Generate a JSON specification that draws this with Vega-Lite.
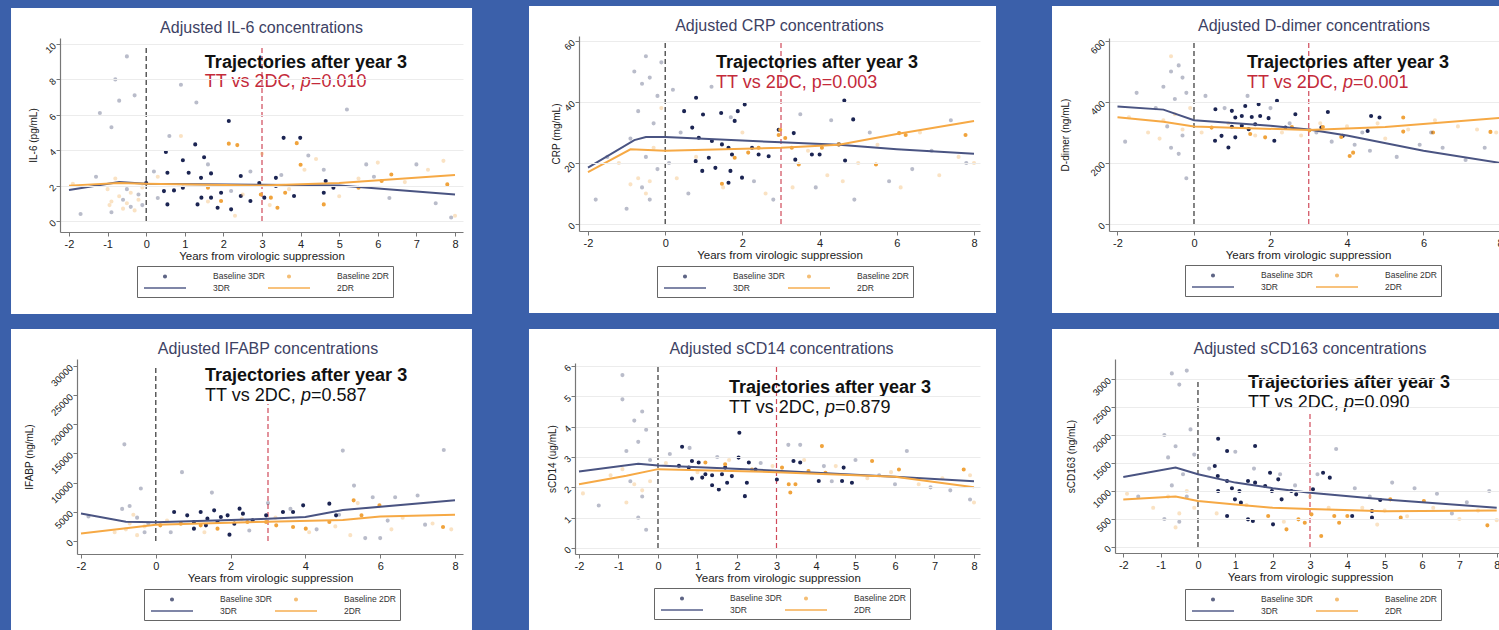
{
"$schema": "https://vega.github.io/schema/vega-lite/v6.json",
"background": "#3b60aa",
"padding": {"left": 10, "top": 5, "right": 0, "bottom": 0},
"columns": 3,
"spacing": {"row": 13, "column": 55},
"align": "each",
"resolve": {"legend": {"color": "independent", "shape": "independent"}},
"config": {
  "view": {"stroke": null},
  "font": "Liberation Sans",
  "axis": {"domainColor": "#777777", "domainWidth": 1.2, "tickColor": "#777777", "tickSize": 4, "labelFontSize": 11, "labelColor": "#222222", "titleFontSize": 11.5, "titleFontWeight": "normal", "titleColor": "#222222", "grid": false, "labelPadding": 2, "titlePadding": 1},
  "axisX": {"labelFlush": false},
  "axisY": {"labelAngle": -45, "labelFontSize": 9.5, "titleFontSize": 10, "grid": true, "gridColor": "#ececec"},
  "legend": {"columns": 2, "symbolSize": 100, "symbolOffset": 18, "labelOffset": 42, "columnPadding": -18, "rowPadding": 0, "padding": 4, "strokeColor": "#666666", "labelFontSize": 8.5, "labelColor": "#333333", "symbolStrokeWidth": 2, "orient": "none"},
  "title": {"fontSize": 16, "fontWeight": "normal", "color": "#3d4264", "frame": "group", "anchor": "middle", "baseline": "alphabetic"}
},
"datasets": {
"pts": [
{"p":"A","g":"B3","f":1,"x":0.51,"y":3.9},{"p":"A","g":"B3","f":1,"x":1.27,"y":4.33},{"p":"A","g":"B3","f":1,"x":1.5,"y":3.6},{"p":"A","g":"B3","f":1,"x":2.14,"y":5.65},{"p":"A","g":"B3","f":1,"x":3.56,"y":4.7},{"p":"A","g":"B3","f":1,"x":3.99,"y":4.7},{"p":"A","g":"B3","f":1,"x":0.55,"y":2.73},{"p":"A","g":"B3","f":1,"x":0.95,"y":3.43},{"p":"A","g":"B3","f":1,"x":1.1,"y":2.73},{"p":"A","g":"B3","f":1,"x":1.42,"y":2.44},{"p":"A","g":"B3","f":1,"x":1.68,"y":2.69},{"p":"A","g":"B3","f":1,"x":2.45,"y":2.54},{"p":"A","g":"B3","f":1,"x":0.72,"y":1.73},{"p":"A","g":"B3","f":1,"x":0.46,"y":1.69},{"p":"A","g":"B3","f":1,"x":0.55,"y":0.94},{"p":"A","g":"B3","f":1,"x":0.95,"y":1.88},{"p":"A","g":"B3","f":1,"x":1.33,"y":0.94},{"p":"A","g":"B3","f":1,"x":1.68,"y":1.32},{"p":"A","g":"B3","f":1,"x":1.94,"y":1.6},{"p":"A","g":"B3","f":1,"x":2.2,"y":0.66},{"p":"A","g":"B3","f":1,"x":2.45,"y":1.41},{"p":"A","g":"B3","f":1,"x":2.7,"y":1.13},{"p":"A","g":"B3","f":1,"x":3.06,"y":1.32},{"p":"A","g":"B3","f":1,"x":3.36,"y":2.44},{"p":"A","g":"B3","f":1,"x":3.36,"y":1.98},{"p":"A","g":"B3","f":1,"x":3.83,"y":1.41},{"p":"A","g":"B3","f":1,"x":4.6,"y":1.6},{"p":"A","g":"B3","f":1,"x":4.65,"y":2.26},{"p":"A","g":"B3","f":1,"x":4.85,"y":1.88},{"p":"A","g":"B3","f":1,"x":0.0,"y":2.15},{"p":"A","g":"B3","f":1,"x":2.93,"y":2.15},{"p":"A","g":"B3","f":1,"x":1.85,"y":0.75},{"p":"A","g":"B3","f":1,"x":1.43,"y":1.32},
{"p":"A","g":"B2","f":1,"x":2.14,"y":4.37},{"p":"A","g":"B2","f":1,"x":2.36,"y":4.29},{"p":"A","g":"B2","f":1,"x":3.9,"y":4.4},{"p":"A","g":"B2","f":1,"x":4.0,"y":3.18},{"p":"A","g":"B2","f":1,"x":1.6,"y":1.88},{"p":"A","g":"B2","f":1,"x":1.94,"y":1.13},{"p":"A","g":"B2","f":1,"x":2.97,"y":1.5},{"p":"A","g":"B2","f":1,"x":3.23,"y":1.32},{"p":"A","g":"B2","f":1,"x":3.4,"y":0.75},{"p":"A","g":"B2","f":1,"x":5.5,"y":1.88},{"p":"A","g":"B2","f":1,"x":6.1,"y":2.26},{"p":"A","g":"B2","f":1,"x":6.35,"y":2.63},{"p":"A","g":"B2","f":1,"x":7.8,"y":2.07},{"p":"A","g":"B2","f":1,"x":4.6,"y":0.94},{"p":"A","g":"B2","f":1,"x":3.6,"y":1.6},
{"p":"A","g":"B3","f":0,"x":-0.8,"y":8},{"p":"A","g":"B3","f":0,"x":-0.5,"y":9.3},{"p":"A","g":"B3","f":0,"x":-0.7,"y":6.8},{"p":"A","g":"B3","f":0,"x":-0.9,"y":5.3},{"p":"A","g":"B3","f":0,"x":-0.3,"y":7.1},{"p":"A","g":"B3","f":0,"x":-1.2,"y":6.1},{"p":"A","g":"B3","f":0,"x":-0.6,"y":1.2},{"p":"A","g":"B3","f":0,"x":-0.4,"y":0.8},{"p":"A","g":"B3","f":0,"x":-0.2,"y":1.5},{"p":"A","g":"B3","f":0,"x":-0.9,"y":0.5},{"p":"A","g":"B3","f":0,"x":0.3,"y":1.3},{"p":"A","g":"B3","f":0,"x":0.6,"y":4.8},{"p":"A","g":"B3","f":0,"x":0.9,"y":7.7},{"p":"A","g":"B3","f":0,"x":1.3,"y":6.7},{"p":"A","g":"B3","f":0,"x":0.2,"y":2.8},{"p":"A","g":"B3","f":0,"x":1.6,"y":3.2},{"p":"A","g":"B3","f":0,"x":2.2,"y":1.7},{"p":"A","g":"B3","f":0,"x":2.7,"y":2.8},{"p":"A","g":"B3","f":0,"x":3.5,"y":2.6},{"p":"A","g":"B3","f":0,"x":4.2,"y":3.7},{"p":"A","g":"B3","f":0,"x":5.2,"y":6.3},{"p":"A","g":"B3","f":0,"x":5.7,"y":3.2},{"p":"A","g":"B3","f":0,"x":6.3,"y":1.3},{"p":"A","g":"B3","f":0,"x":7.0,"y":3.2},{"p":"A","g":"B3","f":0,"x":7.5,"y":1.0},{"p":"A","g":"B3","f":0,"x":7.9,"y":0.2},{"p":"A","g":"B3","f":0,"x":-1.7,"y":0.4},{"p":"A","g":"B3","f":0,"x":-1.3,"y":2.5},{"p":"A","g":"B3","f":0,"x":4.6,"y":2.9},{"p":"A","g":"B3","f":0,"x":5.9,"y":2.5},{"p":"A","g":"B3","f":0,"x":-0.5,"y":1.8},{"p":"A","g":"B3","f":0,"x":-0.1,"y":0.9},
{"p":"A","g":"B2","f":0,"x":-0.5,"y":1.0},{"p":"A","g":"B2","f":0,"x":-0.7,"y":1.4},{"p":"A","g":"B2","f":0,"x":-0.3,"y":0.6},{"p":"A","g":"B2","f":0,"x":-0.1,"y":1.9},{"p":"A","g":"B2","f":0,"x":-0.8,"y":2.4},{"p":"A","g":"B2","f":0,"x":0.3,"y":2.5},{"p":"A","g":"B2","f":0,"x":0.9,"y":4.8},{"p":"A","g":"B2","f":0,"x":1.6,"y":1.1},{"p":"A","g":"B2","f":0,"x":2.3,"y":0.3},{"p":"A","g":"B2","f":0,"x":3.0,"y":3.8},{"p":"A","g":"B2","f":0,"x":3.2,"y":0.9},{"p":"A","g":"B2","f":0,"x":4.1,"y":2.9},{"p":"A","g":"B2","f":0,"x":4.4,"y":3.5},{"p":"A","g":"B2","f":0,"x":5.0,"y":1.4},{"p":"A","g":"B2","f":0,"x":5.5,"y":2.4},{"p":"A","g":"B2","f":0,"x":6.0,"y":3.3},{"p":"A","g":"B2","f":0,"x":6.7,"y":2.2},{"p":"A","g":"B2","f":0,"x":7.3,"y":2.9},{"p":"A","g":"B2","f":0,"x":7.7,"y":3.4},{"p":"A","g":"B2","f":0,"x":8.0,"y":0.3},{"p":"A","g":"B2","f":0,"x":-1.9,"y":2.1},{"p":"A","g":"B2","f":0,"x":-1.0,"y":1.8},{"p":"A","g":"B2","f":0,"x":2.5,"y":1.5},{"p":"A","g":"B2","f":0,"x":3.7,"y":1.8},{"p":"A","g":"B2","f":0,"x":-0.9,"y":1.1},{"p":"A","g":"B2","f":0,"x":-0.6,"y":0.7},{"p":"A","g":"B2","f":0,"x":-0.4,"y":1.6},{"p":"A","g":"B2","f":0,"x":-0.2,"y":1.2},{"p":"A","g":"B2","f":0,"x":-0.95,"y":0.9},
{"p":"B","g":"B3","f":1,"x":0.8,"y":41.4},{"p":"B","g":"B3","f":1,"x":0.49,"y":37.0},{"p":"B","g":"B3","f":1,"x":0.98,"y":35.9},{"p":"B","g":"B3","f":1,"x":1.45,"y":36.4},{"p":"B","g":"B3","f":1,"x":1.88,"y":37.0},{"p":"B","g":"B3","f":1,"x":2.06,"y":39.2},{"p":"B","g":"B3","f":1,"x":1.8,"y":33.8},{"p":"B","g":"B3","f":1,"x":0.7,"y":31.6},{"p":"B","g":"B3","f":1,"x":0.87,"y":28.3},{"p":"B","g":"B3","f":1,"x":1.21,"y":27.2},{"p":"B","g":"B3","f":1,"x":1.47,"y":26.1},{"p":"B","g":"B3","f":1,"x":1.64,"y":25.0},{"p":"B","g":"B3","f":1,"x":1.73,"y":22.8},{"p":"B","g":"B3","f":1,"x":1.13,"y":21.7},{"p":"B","g":"B3","f":1,"x":0.79,"y":20.6},{"p":"B","g":"B3","f":1,"x":0.96,"y":17.4},{"p":"B","g":"B3","f":1,"x":1.3,"y":18.4},{"p":"B","g":"B3","f":1,"x":1.69,"y":17.4},{"p":"B","g":"B3","f":1,"x":1.99,"y":15.2},{"p":"B","g":"B3","f":1,"x":2.25,"y":25.0},{"p":"B","g":"B3","f":1,"x":2.42,"y":22.8},{"p":"B","g":"B3","f":1,"x":2.68,"y":22.2},{"p":"B","g":"B3","f":1,"x":2.94,"y":30.9},{"p":"B","g":"B3","f":1,"x":3.33,"y":29.8},{"p":"B","g":"B3","f":1,"x":3.37,"y":21.1},{"p":"B","g":"B3","f":1,"x":3.8,"y":22.8},{"p":"B","g":"B3","f":1,"x":4.0,"y":22.8},{"p":"B","g":"B3","f":1,"x":4.64,"y":40.5},{"p":"B","g":"B3","f":1,"x":4.87,"y":34.3},{"p":"B","g":"B3","f":1,"x":4.66,"y":20.8},{"p":"B","g":"B3","f":1,"x":1.64,"y":13.5},{"p":"B","g":"B3","f":1,"x":4.5,"y":26.1},
{"p":"B","g":"B2","f":1,"x":2.94,"y":29.2},{"p":"B","g":"B2","f":1,"x":2.98,"y":30.9},{"p":"B","g":"B2","f":1,"x":3.11,"y":28.2},{"p":"B","g":"B2","f":1,"x":3.28,"y":25},{"p":"B","g":"B2","f":1,"x":4.06,"y":25},{"p":"B","g":"B2","f":1,"x":4.49,"y":26.1},{"p":"B","g":"B2","f":1,"x":6.06,"y":29.8},{"p":"B","g":"B2","f":1,"x":6.23,"y":29.2},{"p":"B","g":"B2","f":1,"x":7.78,"y":29.2},{"p":"B","g":"B2","f":1,"x":1.8,"y":21.7},{"p":"B","g":"B2","f":1,"x":2.15,"y":23.4},{"p":"B","g":"B2","f":1,"x":1.47,"y":13.2},{"p":"B","g":"B2","f":1,"x":5.46,"y":19.5},{"p":"B","g":"B2","f":1,"x":3.46,"y":19.5},{"p":"B","g":"B2","f":1,"x":2.42,"y":25},
{"p":"B","g":"B3","f":0,"x":-0.8,"y":50},{"p":"B","g":"B3","f":0,"x":-0.6,"y":46},{"p":"B","g":"B3","f":0,"x":-0.4,"y":48},{"p":"B","g":"B3","f":0,"x":-0.2,"y":42},{"p":"B","g":"B3","f":0,"x":-0.7,"y":37},{"p":"B","g":"B3","f":0,"x":-0.3,"y":33},{"p":"B","g":"B3","f":0,"x":-0.9,"y":28},{"p":"B","g":"B3","f":0,"x":-0.5,"y":22},{"p":"B","g":"B3","f":0,"x":-0.2,"y":18},{"p":"B","g":"B3","f":0,"x":-0.6,"y":12},{"p":"B","g":"B3","f":0,"x":-0.4,"y":8},{"p":"B","g":"B3","f":0,"x":-1.0,"y":5},{"p":"B","g":"B3","f":0,"x":0.2,"y":44},{"p":"B","g":"B3","f":0,"x":0.4,"y":30},{"p":"B","g":"B3","f":0,"x":0.1,"y":20},{"p":"B","g":"B3","f":0,"x":0.6,"y":10},{"p":"B","g":"B3","f":0,"x":1.2,"y":45},{"p":"B","g":"B3","f":0,"x":1.7,"y":35},{"p":"B","g":"B3","f":0,"x":2.3,"y":14},{"p":"B","g":"B3","f":0,"x":2.8,"y":8},{"p":"B","g":"B3","f":0,"x":3.5,"y":36},{"p":"B","g":"B3","f":0,"x":3.9,"y":12},{"p":"B","g":"B3","f":0,"x":4.3,"y":34},{"p":"B","g":"B3","f":0,"x":4.9,"y":8},{"p":"B","g":"B3","f":0,"x":5.3,"y":30},{"p":"B","g":"B3","f":0,"x":5.8,"y":14},{"p":"B","g":"B3","f":0,"x":6.4,"y":18},{"p":"B","g":"B3","f":0,"x":6.9,"y":24},{"p":"B","g":"B3","f":0,"x":7.4,"y":34},{"p":"B","g":"B3","f":0,"x":7.8,"y":20},{"p":"B","g":"B3","f":0,"x":-1.8,"y":8},{"p":"B","g":"B3","f":0,"x":-1.5,"y":22},{"p":"B","g":"B3","f":0,"x":-0.1,"y":53},{"p":"B","g":"B3","f":0,"x":-0.5,"y":55},
{"p":"B","g":"B2","f":0,"x":-0.7,"y":15},{"p":"B","g":"B2","f":0,"x":-0.5,"y":10},{"p":"B","g":"B2","f":0,"x":-0.9,"y":13},{"p":"B","g":"B2","f":0,"x":-0.3,"y":25},{"p":"B","g":"B2","f":0,"x":-0.1,"y":38},{"p":"B","g":"B2","f":0,"x":0.3,"y":15},{"p":"B","g":"B2","f":0,"x":0.8,"y":22},{"p":"B","g":"B2","f":0,"x":1.5,"y":12},{"p":"B","g":"B2","f":0,"x":2.0,"y":30},{"p":"B","g":"B2","f":0,"x":2.6,"y":10},{"p":"B","g":"B2","f":0,"x":3.3,"y":12},{"p":"B","g":"B2","f":0,"x":3.7,"y":24},{"p":"B","g":"B2","f":0,"x":4.2,"y":16},{"p":"B","g":"B2","f":0,"x":4.6,"y":14},{"p":"B","g":"B2","f":0,"x":5.0,"y":20},{"p":"B","g":"B2","f":0,"x":5.5,"y":26},{"p":"B","g":"B2","f":0,"x":6.1,"y":12},{"p":"B","g":"B2","f":0,"x":6.6,"y":30},{"p":"B","g":"B2","f":0,"x":7.1,"y":16},{"p":"B","g":"B2","f":0,"x":7.6,"y":22},{"p":"B","g":"B2","f":0,"x":8.0,"y":20},{"p":"B","g":"B2","f":0,"x":-1.2,"y":20},{"p":"B","g":"B2","f":0,"x":-0.4,"y":14},
{"p":"C","g":"B3","f":1,"x":0.56,"y":376},{"p":"C","g":"B3","f":1,"x":0.99,"y":371},{"p":"C","g":"B3","f":1,"x":1.34,"y":387},{"p":"C","g":"B3","f":1,"x":1.69,"y":393},{"p":"C","g":"B3","f":1,"x":2.17,"y":404},{"p":"C","g":"B3","f":1,"x":1.08,"y":349},{"p":"C","g":"B3","f":1,"x":1.25,"y":354},{"p":"C","g":"B3","f":1,"x":1.51,"y":351},{"p":"C","g":"B3","f":1,"x":1.73,"y":354},{"p":"C","g":"B3","f":1,"x":1.95,"y":347},{"p":"C","g":"B3","f":1,"x":2.65,"y":360},{"p":"C","g":"B3","f":1,"x":1.6,"y":327},{"p":"C","g":"B3","f":1,"x":1.25,"y":322},{"p":"C","g":"B3","f":1,"x":0.99,"y":319},{"p":"C","g":"B3","f":1,"x":0.55,"y":273},{"p":"C","g":"B3","f":1,"x":0.72,"y":289},{"p":"C","g":"B3","f":1,"x":0.9,"y":251},{"p":"C","g":"B3","f":1,"x":1.08,"y":284},{"p":"C","g":"B3","f":1,"x":2.1,"y":273},{"p":"C","g":"B3","f":1,"x":3.5,"y":367},{"p":"C","g":"B3","f":1,"x":4.63,"y":354},{"p":"C","g":"B3","f":1,"x":4.85,"y":349},{"p":"C","g":"B3","f":1,"x":4.54,"y":305},{"p":"C","g":"B3","f":1,"x":3.33,"y":316},{"p":"C","g":"B3","f":1,"x":3.89,"y":289},{"p":"C","g":"B3","f":1,"x":1.43,"y":311},{"p":"C","g":"B3","f":1,"x":2.39,"y":316},
{"p":"C","g":"B2","f":1,"x":3.02,"y":307},{"p":"C","g":"B2","f":1,"x":3.37,"y":318},{"p":"C","g":"B2","f":1,"x":3.85,"y":285},{"p":"C","g":"B2","f":1,"x":4.07,"y":223},{"p":"C","g":"B2","f":1,"x":4.16,"y":234},{"p":"C","g":"B2","f":1,"x":5.47,"y":349},{"p":"C","g":"B2","f":1,"x":5.47,"y":303},{"p":"C","g":"B2","f":1,"x":6.25,"y":300},{"p":"C","g":"B2","f":1,"x":7.75,"y":302},{"p":"C","g":"B2","f":1,"x":1.86,"y":284},{"p":"C","g":"B2","f":1,"x":2.56,"y":318},{"p":"C","g":"B2","f":1,"x":0.46,"y":316},{"p":"C","g":"B2","f":1,"x":1.47,"y":295},
{"p":"C","g":"B3","f":0,"x":-0.6,"y":500},{"p":"C","g":"B3","f":0,"x":-0.4,"y":520},{"p":"C","g":"B3","f":0,"x":-0.3,"y":480},{"p":"C","g":"B3","f":0,"x":-0.8,"y":450},{"p":"C","g":"B3","f":0,"x":-0.2,"y":430},{"p":"C","g":"B3","f":0,"x":-0.5,"y":410},{"p":"C","g":"B3","f":0,"x":-1.0,"y":380},{"p":"C","g":"B3","f":0,"x":-0.7,"y":320},{"p":"C","g":"B3","f":0,"x":-0.3,"y":290},{"p":"C","g":"B3","f":0,"x":-0.6,"y":250},{"p":"C","g":"B3","f":0,"x":-0.4,"y":230},{"p":"C","g":"B3","f":0,"x":-0.2,"y":150},{"p":"C","g":"B3","f":0,"x":-1.8,"y":270},{"p":"C","g":"B3","f":0,"x":-1.5,"y":430},{"p":"C","g":"B3","f":0,"x":0.3,"y":420},{"p":"C","g":"B3","f":0,"x":0.8,"y":380},{"p":"C","g":"B3","f":0,"x":1.4,"y":420},{"p":"C","g":"B3","f":0,"x":2.0,"y":380},{"p":"C","g":"B3","f":0,"x":2.5,"y":330},{"p":"C","g":"B3","f":0,"x":3.2,"y":300},{"p":"C","g":"B3","f":0,"x":3.6,"y":270},{"p":"C","g":"B3","f":0,"x":4.2,"y":260},{"p":"C","g":"B3","f":0,"x":4.6,"y":240},{"p":"C","g":"B3","f":0,"x":5.3,"y":220},{"p":"C","g":"B3","f":0,"x":5.9,"y":260},{"p":"C","g":"B3","f":0,"x":6.5,"y":250},{"p":"C","g":"B3","f":0,"x":7.1,"y":210},{"p":"C","g":"B3","f":0,"x":7.6,"y":250},{"p":"C","g":"B3","f":0,"x":4.4,"y":300},{"p":"C","g":"B3","f":0,"x":6.2,"y":300},
{"p":"C","g":"B2","f":0,"x":-0.5,"y":360},{"p":"C","g":"B2","f":0,"x":-0.8,"y":340},{"p":"C","g":"B2","f":0,"x":-0.3,"y":310},{"p":"C","g":"B2","f":0,"x":-0.1,"y":380},{"p":"C","g":"B2","f":0,"x":-0.9,"y":280},{"p":"C","g":"B2","f":0,"x":-1.7,"y":350},{"p":"C","g":"B2","f":0,"x":-1.2,"y":300},{"p":"C","g":"B2","f":0,"x":0.2,"y":300},{"p":"C","g":"B2","f":0,"x":0.9,"y":330},{"p":"C","g":"B2","f":0,"x":1.6,"y":290},{"p":"C","g":"B2","f":0,"x":2.3,"y":300},{"p":"C","g":"B2","f":0,"x":2.8,"y":290},{"p":"C","g":"B2","f":0,"x":3.3,"y":330},{"p":"C","g":"B2","f":0,"x":4.0,"y":320},{"p":"C","g":"B2","f":0,"x":4.8,"y":330},{"p":"C","g":"B2","f":0,"x":5.6,"y":310},{"p":"C","g":"B2","f":0,"x":6.3,"y":340},{"p":"C","g":"B2","f":0,"x":6.9,"y":320},{"p":"C","g":"B2","f":0,"x":7.4,"y":310},{"p":"C","g":"B2","f":0,"x":7.9,"y":300},{"p":"C","g":"B2","f":0,"x":5.0,"y":280},{"p":"C","g":"B2","f":0,"x":-0.6,"y":550},
{"p":"D","g":"B3","f":1,"x":0.49,"y":4971},{"p":"D","g":"B3","f":1,"x":0.84,"y":4400},{"p":"D","g":"B3","f":1,"x":1.2,"y":4971},{"p":"D","g":"B3","f":1,"x":1.56,"y":5257},{"p":"D","g":"B3","f":1,"x":1.92,"y":4400},{"p":"D","g":"B3","f":1,"x":2.24,"y":5543},{"p":"D","g":"B3","f":1,"x":1.02,"y":3257},{"p":"D","g":"B3","f":1,"x":1.38,"y":3828},{"p":"D","g":"B3","f":1,"x":1.74,"y":4114},{"p":"D","g":"B3","f":1,"x":2.1,"y":2971},{"p":"D","g":"B3","f":1,"x":1.02,"y":2114},{"p":"D","g":"B3","f":1,"x":1.97,"y":1086},{"p":"D","g":"B3","f":1,"x":3.4,"y":4971},{"p":"D","g":"B3","f":1,"x":3.67,"y":4971},{"p":"D","g":"B3","f":1,"x":3.94,"y":6114},{"p":"D","g":"B3","f":1,"x":4.64,"y":6400},{"p":"D","g":"B3","f":1,"x":4.82,"y":4400},{"p":"D","g":"B3","f":1,"x":2.59,"y":3543},{"p":"D","g":"B3","f":1,"x":2.33,"y":4686},{"p":"D","g":"B3","f":1,"x":2.95,"y":4400},{"p":"D","g":"B3","f":1,"x":1.34,"y":2686},{"p":"D","g":"B3","f":1,"x":1.65,"y":3257},
{"p":"D","g":"B2","f":1,"x":0.67,"y":2971},{"p":"D","g":"B2","f":1,"x":1.2,"y":2686},{"p":"D","g":"B2","f":1,"x":1.65,"y":2114},{"p":"D","g":"B2","f":1,"x":2.45,"y":3257},{"p":"D","g":"B2","f":1,"x":2.95,"y":3257},{"p":"D","g":"B2","f":1,"x":3.22,"y":2686},{"p":"D","g":"B2","f":1,"x":3.67,"y":2400},{"p":"D","g":"B2","f":1,"x":4.01,"y":2114},{"p":"D","g":"B2","f":1,"x":4.64,"y":3257},{"p":"D","g":"B2","f":1,"x":5.29,"y":6971},{"p":"D","g":"B2","f":1,"x":5.5,"y":4400},{"p":"D","g":"B2","f":1,"x":5.98,"y":6114},{"p":"D","g":"B2","f":1,"x":7.68,"y":2400},{"p":"D","g":"B2","f":1,"x":0.12,"y":2686},
{"p":"D","g":"B3","f":0,"x":-0.84,"y":16571},{"p":"D","g":"B3","f":0,"x":-0.4,"y":9000},{"p":"D","g":"B3","f":0,"x":-0.7,"y":6000},{"p":"D","g":"B3","f":0,"x":-0.5,"y":4000},{"p":"D","g":"B3","f":0,"x":-0.2,"y":3000},{"p":"D","g":"B3","f":0,"x":0.7,"y":11800},{"p":"D","g":"B3","f":0,"x":1.5,"y":8300},{"p":"D","g":"B3","f":0,"x":-0.9,"y":5500},{"p":"D","g":"B3","f":0,"x":-0.3,"y":1500},{"p":"D","g":"B3","f":0,"x":0.4,"y":1500},{"p":"D","g":"B3","f":0,"x":2.5,"y":1800},{"p":"D","g":"B3","f":0,"x":3.6,"y":5500},{"p":"D","g":"B3","f":0,"x":4.3,"y":2000},{"p":"D","g":"B3","f":0,"x":5.0,"y":15500},{"p":"D","g":"B3","f":0,"x":5.3,"y":9500},{"p":"D","g":"B3","f":0,"x":5.8,"y":7500},{"p":"D","g":"B3","f":0,"x":6.4,"y":7500},{"p":"D","g":"B3","f":0,"x":7.0,"y":7800},{"p":"D","g":"B3","f":0,"x":7.7,"y":15600},{"p":"D","g":"B3","f":0,"x":4.9,"y":4500},{"p":"D","g":"B3","f":0,"x":6.2,"y":3500},{"p":"D","g":"B3","f":0,"x":7.2,"y":2800},{"p":"D","g":"B3","f":0,"x":5.6,"y":500},{"p":"D","g":"B3","f":0,"x":6.0,"y":500},{"p":"D","g":"B3","f":0,"x":3.0,"y":6500},{"p":"D","g":"B3","f":0,"x":-1.8,"y":4200},
{"p":"D","g":"B2","f":0,"x":-0.8,"y":2000},{"p":"D","g":"B2","f":0,"x":-0.5,"y":1000},{"p":"D","g":"B2","f":0,"x":-0.3,"y":2500},{"p":"D","g":"B2","f":0,"x":-0.7,"y":3000},{"p":"D","g":"B2","f":0,"x":0.3,"y":3500},{"p":"D","g":"B2","f":0,"x":1.3,"y":1500},{"p":"D","g":"B2","f":0,"x":2.3,"y":3800},{"p":"D","g":"B2","f":0,"x":3.2,"y":4000},{"p":"D","g":"B2","f":0,"x":4.1,"y":1500},{"p":"D","g":"B2","f":0,"x":4.8,"y":2500},{"p":"D","g":"B2","f":0,"x":5.4,"y":6500},{"p":"D","g":"B2","f":0,"x":6.6,"y":4000},{"p":"D","g":"B2","f":0,"x":7.4,"y":3000},{"p":"D","g":"B2","f":0,"x":7.9,"y":2000},{"p":"D","g":"B2","f":0,"x":5.2,"y":1000},{"p":"D","g":"B2","f":0,"x":6.3,"y":2000},{"p":"D","g":"B2","f":0,"x":-1.1,"y":1500},{"p":"D","g":"B2","f":0,"x":-0.6,"y":4500},
{"p":"E","g":"B3","f":1,"x":0.61,"y":3.34},{"p":"E","g":"B3","f":1,"x":0.86,"y":2.87},{"p":"E","g":"B3","f":1,"x":1.03,"y":2.82},{"p":"E","g":"B3","f":1,"x":0.53,"y":2.71},{"p":"E","g":"B3","f":1,"x":0.78,"y":2.65},{"p":"E","g":"B3","f":1,"x":0.86,"y":2.29},{"p":"E","g":"B3","f":1,"x":1.12,"y":2.32},{"p":"E","g":"B3","f":1,"x":1.37,"y":2.4},{"p":"E","g":"B3","f":1,"x":1.62,"y":2.43},{"p":"E","g":"B3","f":1,"x":1.7,"y":2.65},{"p":"E","g":"B3","f":1,"x":2.04,"y":2.98},{"p":"E","g":"B3","f":1,"x":2.06,"y":3.8},{"p":"E","g":"B3","f":1,"x":1.37,"y":2.07},{"p":"E","g":"B3","f":1,"x":1.54,"y":1.93},{"p":"E","g":"B3","f":1,"x":1.75,"y":2.15},{"p":"E","g":"B3","f":1,"x":1.87,"y":2.37},{"p":"E","g":"B3","f":1,"x":2.2,"y":1.71},{"p":"E","g":"B3","f":1,"x":2.25,"y":2.15},{"p":"E","g":"B3","f":1,"x":2.3,"y":2.82},{"p":"E","g":"B3","f":1,"x":3.01,"y":2.26},{"p":"E","g":"B3","f":1,"x":3.43,"y":2.87},{"p":"E","g":"B3","f":1,"x":3.6,"y":2.82},{"p":"E","g":"B3","f":1,"x":4.07,"y":2.21},{"p":"E","g":"B3","f":1,"x":4.66,"y":2.21},{"p":"E","g":"B3","f":1,"x":4.91,"y":2.15},{"p":"E","g":"B3","f":1,"x":4.7,"y":2.65},{"p":"E","g":"B3","f":1,"x":2.47,"y":2.59},{"p":"E","g":"B3","f":1,"x":1.2,"y":2.43},
{"p":"E","g":"B2","f":1,"x":3.31,"y":2.1},{"p":"E","g":"B2","f":1,"x":3.35,"y":1.83},{"p":"E","g":"B2","f":1,"x":3.48,"y":2.1},{"p":"E","g":"B2","f":1,"x":4.15,"y":3.36},{"p":"E","g":"B2","f":1,"x":3.81,"y":2.54},{"p":"E","g":"B2","f":1,"x":3.14,"y":2.65},{"p":"E","g":"B2","f":1,"x":6.1,"y":2.59},{"p":"E","g":"B2","f":1,"x":7.74,"y":2.59},{"p":"E","g":"B2","f":1,"x":5.42,"y":2.87},{"p":"E","g":"B2","f":1,"x":4.24,"y":2.48},{"p":"E","g":"B2","f":1,"x":2.38,"y":2.59},{"p":"E","g":"B2","f":1,"x":1.2,"y":2.82},{"p":"E","g":"B2","f":1,"x":1.7,"y":2.76},
{"p":"E","g":"B3","f":0,"x":-0.9,"y":5.7},{"p":"E","g":"B3","f":0,"x":-0.9,"y":4.9},{"p":"E","g":"B3","f":0,"x":-0.6,"y":4.2},{"p":"E","g":"B3","f":0,"x":-0.4,"y":4.5},{"p":"E","g":"B3","f":0,"x":-0.3,"y":3.9},{"p":"E","g":"B3","f":0,"x":-0.8,"y":3.2},{"p":"E","g":"B3","f":0,"x":-0.5,"y":3.5},{"p":"E","g":"B3","f":0,"x":-0.2,"y":2.9},{"p":"E","g":"B3","f":0,"x":-0.7,"y":2.2},{"p":"E","g":"B3","f":0,"x":-0.4,"y":1.7},{"p":"E","g":"B3","f":0,"x":-0.5,"y":1.0},{"p":"E","g":"B3","f":0,"x":-0.3,"y":0.6},{"p":"E","g":"B3","f":0,"x":-1.5,"y":1.4},{"p":"E","g":"B3","f":0,"x":0.3,"y":3.1},{"p":"E","g":"B3","f":0,"x":0.8,"y":3.3},{"p":"E","g":"B3","f":0,"x":1.5,"y":3.0},{"p":"E","g":"B3","f":0,"x":2.6,"y":2.8},{"p":"E","g":"B3","f":0,"x":3.3,"y":3.4},{"p":"E","g":"B3","f":0,"x":3.6,"y":3.4},{"p":"E","g":"B3","f":0,"x":4.4,"y":2.2},{"p":"E","g":"B3","f":0,"x":5.0,"y":2.9},{"p":"E","g":"B3","f":0,"x":5.6,"y":2.4},{"p":"E","g":"B3","f":0,"x":6.3,"y":3.2},{"p":"E","g":"B3","f":0,"x":6.9,"y":2.0},{"p":"E","g":"B3","f":0,"x":7.4,"y":1.9},{"p":"E","g":"B3","f":0,"x":7.9,"y":1.6},{"p":"E","g":"B3","f":0,"x":4.2,"y":2.7},{"p":"E","g":"B3","f":0,"x":6.0,"y":2.1},
{"p":"E","g":"B2","f":0,"x":-0.9,"y":2.6},{"p":"E","g":"B2","f":0,"x":-0.6,"y":2.1},{"p":"E","g":"B2","f":0,"x":-0.4,"y":1.9},{"p":"E","g":"B2","f":0,"x":-0.2,"y":2.2},{"p":"E","g":"B2","f":0,"x":-0.8,"y":1.5},{"p":"E","g":"B2","f":0,"x":-1.9,"y":1.8},{"p":"E","g":"B2","f":0,"x":-1.2,"y":2.4},{"p":"E","g":"B2","f":0,"x":0.2,"y":2.8},{"p":"E","g":"B2","f":0,"x":1.0,"y":2.5},{"p":"E","g":"B2","f":0,"x":1.8,"y":2.9},{"p":"E","g":"B2","f":0,"x":2.9,"y":2.7},{"p":"E","g":"B2","f":0,"x":3.7,"y":2.9},{"p":"E","g":"B2","f":0,"x":4.5,"y":2.7},{"p":"E","g":"B2","f":0,"x":5.3,"y":2.3},{"p":"E","g":"B2","f":0,"x":5.9,"y":2.5},{"p":"E","g":"B2","f":0,"x":6.6,"y":2.1},{"p":"E","g":"B2","f":0,"x":7.2,"y":2.3},{"p":"E","g":"B2","f":0,"x":7.9,"y":2.4},{"p":"E","g":"B2","f":0,"x":8.0,"y":1.5},
{"p":"F","g":"B3","f":1,"x":0.54,"y":1934},{"p":"F","g":"B3","f":1,"x":0.78,"y":1714},{"p":"F","g":"B3","f":1,"x":0.45,"y":1446},{"p":"F","g":"B3","f":1,"x":0.53,"y":1268},{"p":"F","g":"B3","f":1,"x":0.78,"y":1179},{"p":"F","g":"B3","f":1,"x":0.91,"y":1048},{"p":"F","g":"B3","f":1,"x":1.11,"y":1000},{"p":"F","g":"B3","f":1,"x":1.34,"y":1179},{"p":"F","g":"B3","f":1,"x":1.53,"y":1804},{"p":"F","g":"B3","f":1,"x":1.53,"y":1149},{"p":"F","g":"B3","f":1,"x":1.8,"y":1089},{"p":"F","g":"B3","f":1,"x":1.93,"y":1327},{"p":"F","g":"B3","f":1,"x":1.98,"y":1000},{"p":"F","g":"B3","f":1,"x":2.15,"y":1208},{"p":"F","g":"B3","f":1,"x":2.24,"y":851},{"p":"F","g":"B3","f":1,"x":2.5,"y":1000},{"p":"F","g":"B3","f":1,"x":2.63,"y":940},{"p":"F","g":"B3","f":1,"x":3.08,"y":1030},{"p":"F","g":"B3","f":1,"x":3.35,"y":1327},{"p":"F","g":"B3","f":1,"x":3.53,"y":1238},{"p":"F","g":"B3","f":1,"x":0.99,"y":851},{"p":"F","g":"B3","f":1,"x":1.15,"y":792},{"p":"F","g":"B3","f":1,"x":1.34,"y":494},{"p":"F","g":"B3","f":1,"x":1.47,"y":464},{"p":"F","g":"B3","f":1,"x":2.01,"y":405},{"p":"F","g":"B3","f":1,"x":4.66,"y":643},{"p":"F","g":"B3","f":1,"x":4.66,"y":524},{"p":"F","g":"B3","f":1,"x":4.88,"y":839},{"p":"F","g":"B3","f":1,"x":4.13,"y":553},{"p":"F","g":"B3","f":1,"x":0.78,"y":554},{"p":"F","g":"B3","f":1,"x":0.54,"y":1000},
{"p":"F","g":"B2","f":1,"x":1.88,"y":553},{"p":"F","g":"B2","f":1,"x":2.37,"y":315},{"p":"F","g":"B2","f":1,"x":2.69,"y":494},{"p":"F","g":"B2","f":1,"x":3.04,"y":583},{"p":"F","g":"B2","f":1,"x":3.3,"y":196},{"p":"F","g":"B2","f":1,"x":3.65,"y":553},{"p":"F","g":"B2","f":1,"x":4.0,"y":553},{"p":"F","g":"B2","f":1,"x":5.43,"y":524},{"p":"F","g":"B2","f":1,"x":6.05,"y":821},{"p":"F","g":"B2","f":1,"x":7.75,"y":387},{"p":"F","g":"B2","f":1,"x":3.78,"y":434},{"p":"F","g":"B2","f":1,"x":5.15,"y":851},{"p":"F","g":"B2","f":1,"x":2.86,"y":434},
{"p":"F","g":"B3","f":0,"x":-0.7,"y":3100},{"p":"F","g":"B3","f":0,"x":-0.3,"y":3150},{"p":"F","g":"B3","f":0,"x":-0.5,"y":2900},{"p":"F","g":"B3","f":0,"x":-0.9,"y":2000},{"p":"F","g":"B3","f":0,"x":-0.6,"y":1800},{"p":"F","g":"B3","f":0,"x":-0.2,"y":2100},{"p":"F","g":"B3","f":0,"x":-0.8,"y":1600},{"p":"F","g":"B3","f":0,"x":-0.4,"y":1300},{"p":"F","g":"B3","f":0,"x":-0.1,"y":1650},{"p":"F","g":"B3","f":0,"x":-0.7,"y":1100},{"p":"F","g":"B3","f":0,"x":-0.3,"y":900},{"p":"F","g":"B3","f":0,"x":-0.9,"y":500},{"p":"F","g":"B3","f":0,"x":-0.5,"y":450},{"p":"F","g":"B3","f":0,"x":0.3,"y":1400},{"p":"F","g":"B3","f":0,"x":1.0,"y":1700},{"p":"F","g":"B3","f":0,"x":1.5,"y":1400},{"p":"F","g":"B3","f":0,"x":2.2,"y":1300},{"p":"F","g":"B3","f":0,"x":2.6,"y":1100},{"p":"F","g":"B3","f":0,"x":3.2,"y":1300},{"p":"F","g":"B3","f":0,"x":3.7,"y":1750},{"p":"F","g":"B3","f":0,"x":4.2,"y":1050},{"p":"F","g":"B3","f":0,"x":4.6,"y":900},{"p":"F","g":"B3","f":0,"x":5.2,"y":1150},{"p":"F","g":"B3","f":0,"x":5.8,"y":1050},{"p":"F","g":"B3","f":0,"x":6.4,"y":950},{"p":"F","g":"B3","f":0,"x":7.2,"y":800},{"p":"F","g":"B3","f":0,"x":7.8,"y":1000},{"p":"F","g":"B3","f":0,"x":6.8,"y":600},{"p":"F","g":"B3","f":0,"x":-1.6,"y":900},
{"p":"F","g":"B2","f":0,"x":-0.8,"y":900},{"p":"F","g":"B2","f":0,"x":-0.5,"y":600},{"p":"F","g":"B2","f":0,"x":-0.3,"y":1000},{"p":"F","g":"B2","f":0,"x":-0.1,"y":700},{"p":"F","g":"B2","f":0,"x":-0.6,"y":350},{"p":"F","g":"B2","f":0,"x":-1.2,"y":700},{"p":"F","g":"B2","f":0,"x":-1.9,"y":950},{"p":"F","g":"B2","f":0,"x":0.5,"y":600},{"p":"F","g":"B2","f":0,"x":1.3,"y":750},{"p":"F","g":"B2","f":0,"x":2.3,"y":450},{"p":"F","g":"B2","f":0,"x":3.0,"y":900},{"p":"F","g":"B2","f":0,"x":3.5,"y":700},{"p":"F","g":"B2","f":0,"x":4.4,"y":700},{"p":"F","g":"B2","f":0,"x":5.0,"y":650},{"p":"F","g":"B2","f":0,"x":5.6,"y":550},{"p":"F","g":"B2","f":0,"x":6.3,"y":700},{"p":"F","g":"B2","f":0,"x":7.0,"y":500},{"p":"F","g":"B2","f":0,"x":7.5,"y":650},{"p":"F","g":"B2","f":0,"x":8.0,"y":480},{"p":"F","g":"B2","f":0,"x":4.8,"y":400}
],
"lns": [
{"p":"A","g":"L3","x":-2,"y":1.75},{"p":"A","g":"L3","x":-0.7,"y":2.2},{"p":"A","g":"L3","x":0,"y":2.1},{"p":"A","g":"L3","x":3,"y":2.05},{"p":"A","g":"L3","x":5,"y":2.0},{"p":"A","g":"L3","x":8,"y":1.5},
{"p":"A","g":"L2","x":-2,"y":2.0},{"p":"A","g":"L2","x":-0.7,"y":2.15},{"p":"A","g":"L2","x":0,"y":2.1},{"p":"A","g":"L2","x":3,"y":2.0},{"p":"A","g":"L2","x":5,"y":2.15},{"p":"A","g":"L2","x":8,"y":2.6},
{"p":"B","g":"L3","x":-2,"y":18.5},{"p":"B","g":"L3","x":-0.8,"y":27.5},{"p":"B","g":"L3","x":-0.5,"y":28.5},{"p":"B","g":"L3","x":0,"y":28.5},{"p":"B","g":"L3","x":3,"y":26.8},{"p":"B","g":"L3","x":4.5,"y":26},{"p":"B","g":"L3","x":6,"y":24.5},{"p":"B","g":"L3","x":8,"y":23},
{"p":"B","g":"L2","x":-2,"y":17},{"p":"B","g":"L2","x":-0.9,"y":24.5},{"p":"B","g":"L2","x":0,"y":24},{"p":"B","g":"L2","x":3,"y":25},{"p":"B","g":"L2","x":4.5,"y":26},{"p":"B","g":"L2","x":6,"y":29.5},{"p":"B","g":"L2","x":8,"y":33.8},
{"p":"C","g":"L3","x":-2,"y":385},{"p":"C","g":"L3","x":-0.8,"y":375},{"p":"C","g":"L3","x":0,"y":340},{"p":"C","g":"L3","x":2,"y":322},{"p":"C","g":"L3","x":3,"y":310},{"p":"C","g":"L3","x":4,"y":290},{"p":"C","g":"L3","x":6,"y":240},{"p":"C","g":"L3","x":8,"y":200},
{"p":"C","g":"L2","x":-2,"y":350},{"p":"C","g":"L2","x":-0.8,"y":335},{"p":"C","g":"L2","x":0,"y":320},{"p":"C","g":"L2","x":3,"y":308},{"p":"C","g":"L2","x":5,"y":318},{"p":"C","g":"L2","x":8,"y":348},
{"p":"D","g":"L3","x":-2,"y":4700},{"p":"D","g":"L3","x":-0.8,"y":3300},{"p":"D","g":"L3","x":0,"y":3200},{"p":"D","g":"L3","x":3,"y":3800},{"p":"D","g":"L3","x":4,"y":4100},{"p":"D","g":"L3","x":5,"y":5300},{"p":"D","g":"L3","x":8,"y":7000},
{"p":"D","g":"L2","x":-2,"y":1300},{"p":"D","g":"L2","x":0,"y":2800},{"p":"D","g":"L2","x":3,"y":3300},{"p":"D","g":"L2","x":5,"y":3600},{"p":"D","g":"L2","x":6,"y":4200},{"p":"D","g":"L2","x":8,"y":4500},
{"p":"E","g":"L3","x":-2,"y":2.52},{"p":"E","g":"L3","x":-0.5,"y":2.78},{"p":"E","g":"L3","x":0,"y":2.72},{"p":"E","g":"L3","x":3,"y":2.55},{"p":"E","g":"L3","x":6,"y":2.35},{"p":"E","g":"L3","x":8,"y":2.2},
{"p":"E","g":"L2","x":-2,"y":2.1},{"p":"E","g":"L2","x":-0.8,"y":2.38},{"p":"E","g":"L2","x":0,"y":2.6},{"p":"E","g":"L2","x":3,"y":2.5},{"p":"E","g":"L2","x":6,"y":2.35},{"p":"E","g":"L2","x":8,"y":2.0},
{"p":"F","g":"L3","x":-2,"y":1250},{"p":"F","g":"L3","x":-0.6,"y":1420},{"p":"F","g":"L3","x":0,"y":1300},{"p":"F","g":"L3","x":1,"y":1150},{"p":"F","g":"L3","x":2,"y":1050},{"p":"F","g":"L3","x":3,"y":970},{"p":"F","g":"L3","x":5,"y":850},{"p":"F","g":"L3","x":8,"y":700},
{"p":"F","g":"L2","x":-2,"y":850},{"p":"F","g":"L2","x":-0.6,"y":900},{"p":"F","g":"L2","x":0,"y":820},{"p":"F","g":"L2","x":1,"y":760},{"p":"F","g":"L2","x":2,"y":700},{"p":"F","g":"L2","x":3,"y":680},{"p":"F","g":"L2","x":5,"y":640},{"p":"F","g":"L2","x":8,"y":650}
]
},
"concat": [
{
 "title": {"text": "Adjusted IL-6 concentrations", "offset": -28, "zindex": 1},
 "width": 403, "height": 194,
 "layer": [
  {"data": {"values": [{}]}, "mark": {"type": "rect", "color": "#ffffff"}, "encoding": {"x": {"datum": -3.502}, "x2": {"datum": 8.441}, "y": {"datum": 12.035}, "y2": {"datum": -5.253}}},
  {"data": {"values": [{}]}, "mark": {"type": "rule", "color": "#333333", "strokeDash": [5, 3], "strokeWidth": 1.2}, "encoding": {"x": {"datum": 0}, "y": {"datum": 0}, "y2": {"datum": 10}}},
  {"data": {"values": [{}]}, "mark": {"type": "rule", "color": "#d04a5a", "strokeDash": [5, 3], "strokeWidth": 1.2}, "encoding": {"x": {"datum": 3}, "y": {"datum": 0}, "y2": {"datum": 10}}},
  {"data": {"name": "pts"}, "transform": [{"filter": "datum.p == 'A'"}], "mark": {"type": "point", "filled": false, "size": 100, "strokeWidth": 2},
   "encoding": {
    "x": {"field": "x", "type": "quantitative", "scale": {"domain": [-2.233, 8.207], "nice": false, "zero": false}, "axis": {"values": [-2,-1,0,1,2,3,4,5,6,7,8], "tickCount": 30, "labelExpr": "'' + datum.value", "labelOverlap": false, "title": "Years from virologic suppression", "zindex": 1}},
    "y": {"field": "y", "type": "quantitative", "scale": {"domain": [-0.62, 10.34], "nice": false, "zero": false}, "axis": {"values": [0,2,4,6,8,10], "tickCount": 30, "labelExpr": "'' + datum.value", "labelOverlap": false, "titlePadding": 4, "title": "IL-6 (pg/mL)", "zindex": 1}},
    "color": {"field": "g", "type": "nominal", "scale": {"domain": ["B3","L3","B2","L2"], "range": ["#1b2452","#4a5482","#f0a33c","#f6a945"]}, "legend": {"title": null, "orient": "none", "legendX": 77, "legendY": 228, "zindex": 1, "labelExpr": "{'B3':'Baseline 3DR','B2':'Baseline 2DR','L3':'3DR','L2':'2DR'}[datum.label]"}},
    "shape": {"field": "g", "type": "nominal", "scale": {"domain": ["B3","L3","B2","L2"], "range": ["M-0.21,0A0.21,0.21,0,1,0,0.21,0A0.21,0.21,0,1,0,-0.21,0Z","M-4.2,0L4.2,0","M-0.21,0A0.21,0.21,0,1,0,0.21,0A0.21,0.21,0,1,0,-0.21,0Z","M-4.2,0L4.2,0"]}, "legend": {"title": null, "orient": "none", "legendX": 77, "legendY": 228, "zindex": 1, "labelExpr": "{'B3':'Baseline 3DR','B2':'Baseline 2DR','L3':'3DR','L2':'2DR'}[datum.label]"}},
    "opacity": {"field": "f", "type": "nominal", "scale": {"domain": [1, 0], "range": [1, 0.3]}, "legend": null}
   }},
  {"data": {"name": "lns"}, "transform": [{"filter": "datum.p == 'A'"}], "mark": {"type": "line", "strokeWidth": 2}, "encoding": {"x": {"field": "x", "type": "quantitative"}, "y": {"field": "y", "type": "quantitative"}, "color": {"field": "g", "type": "nominal"}}},
  {"data": {"values": [{}]}, "mark": {"type": "text", "text": "Trajectories after year 3", "align": "left", "baseline": "middle", "fontSize": 18, "fontWeight": "bold", "color": "#111111"}, "encoding": {"x": {"datum": 1.52}, "y": {"datum": 8.93}}},
  {"data": {"values": [{}]}, "mark": {"type": "text", "text": "TT vs 2DC, ", "align": "left", "baseline": "middle", "fontSize": 18, "color": "#c42a3a"}, "encoding": {"x": {"datum": 1.52}, "y": {"datum": 7.85}}},
  {"data": {"values": [{}]}, "mark": {"type": "text", "text": "p", "dx": 96, "align": "left", "baseline": "middle", "fontSize": 18, "fontStyle": "italic", "color": "#c42a3a"}, "encoding": {"x": {"datum": 1.52}, "y": {"datum": 7.85}}},
  {"data": {"values": [{}]}, "mark": {"type": "text", "text": "=0.010", "dx": 106, "align": "left", "baseline": "middle", "fontSize": 18, "color": "#c42a3a"}, "encoding": {"x": {"datum": 1.52}, "y": {"datum": 7.85}}}
 ]
},
{
 "title": {"text": "Adjusted CRP concentrations", "offset": -28, "zindex": 1},
 "width": 401, "height": 195,
 "layer": [
  {"data": {"values": [{}]}, "mark": {"type": "rect", "color": "#ffffff"}, "encoding": {"x": {"datum": -3.528}, "x2": {"datum": 8.57}, "y": {"datum": 71.48}, "y2": {"datum": -29.19}}},
  {"data": {"values": [{}]}, "mark": {"type": "rule", "color": "#333333", "strokeDash": [5, 3], "strokeWidth": 1.2}, "encoding": {"x": {"datum": 0}, "y": {"datum": 0}, "y2": {"datum": 60}}},
  {"data": {"values": [{}]}, "mark": {"type": "rule", "color": "#d04a5a", "strokeDash": [5, 3], "strokeWidth": 1.2}, "encoding": {"x": {"datum": 3}, "y": {"datum": 0}, "y2": {"datum": 60}}},
  {"data": {"name": "pts"}, "transform": [{"filter": "datum.p == 'B'"}], "mark": {"type": "point", "filled": false, "size": 100, "strokeWidth": 2},
   "encoding": {
    "x": {"field": "x", "type": "quantitative", "scale": {"domain": [-2.233, 8.155], "nice": false, "zero": false}, "axis": {"values": [-2,0,2,4,6,8], "tickCount": 30, "labelExpr": "'' + datum.value", "labelOverlap": false, "offset": -2, "title": "Years from virologic suppression", "zindex": 1}},
    "y": {"field": "y", "type": "quantitative", "scale": {"domain": [-2.3, 61.64], "range": [193, -2], "nice": false, "zero": false}, "axis": {"values": [0,20,40,60], "tickCount": 30, "labelExpr": "'' + datum.value", "labelOverlap": false, "titlePadding": 0, "title": "CRP (mg/mL)", "zindex": 1}},
    "color": {"field": "g", "type": "nominal", "scale": {"domain": ["B3","L3","B2","L2"], "range": ["#1b2452","#4a5482","#f0a33c","#f6a945"]}, "legend": {"title": null, "orient": "none", "legendX": 78, "legendY": 228, "zindex": 1, "labelExpr": "{'B3':'Baseline 3DR','B2':'Baseline 2DR','L3':'3DR','L2':'2DR'}[datum.label]"}},
    "shape": {"field": "g", "type": "nominal", "scale": {"domain": ["B3","L3","B2","L2"], "range": ["M-0.21,0A0.21,0.21,0,1,0,0.21,0A0.21,0.21,0,1,0,-0.21,0Z","M-4.2,0L4.2,0","M-0.21,0A0.21,0.21,0,1,0,0.21,0A0.21,0.21,0,1,0,-0.21,0Z","M-4.2,0L4.2,0"]}, "legend": {"title": null, "orient": "none", "legendX": 78, "legendY": 228, "zindex": 1, "labelExpr": "{'B3':'Baseline 3DR','B2':'Baseline 2DR','L3':'3DR','L2':'2DR'}[datum.label]"}},
    "opacity": {"field": "f", "type": "nominal", "scale": {"domain": [1, 0], "range": [1, 0.3]}, "legend": null}
   }},
  {"data": {"name": "lns"}, "transform": [{"filter": "datum.p == 'B'"}], "mark": {"type": "line", "strokeWidth": 2}, "encoding": {"x": {"field": "x", "type": "quantitative"}, "y": {"field": "y", "type": "quantitative"}, "color": {"field": "g", "type": "nominal"}}},
  {"data": {"values": [{}]}, "mark": {"type": "text", "text": "Trajectories after year 3", "align": "left", "baseline": "middle", "fontSize": 18, "fontWeight": "bold", "color": "#111111"}, "encoding": {"x": {"datum": 1.316}, "y": {"datum": 52.8}}},
  {"data": {"values": [{}]}, "mark": {"type": "text", "text": "TT vs 2DC, p=0.003", "align": "left", "baseline": "middle", "fontSize": 18, "color": "#c42a3a"}, "encoding": {"x": {"datum": 1.316}, "y": {"datum": 46.2}}}
 ]
},
{
 "title": {"text": "Adjusted D-dimer concentrations", "offset": -28, "zindex": 1},
 "width": 398, "height": 193,
 "layer": [
  {"data": {"values": [{}]}, "mark": {"type": "rect", "color": "#ffffff"}, "encoding": {"x": {"datum": -3.712}, "x2": {"datum": 8.445}, "y": {"datum": 714.7}, "y2": {"datum": -291.8}}},
  {"data": {"values": [{}]}, "mark": {"type": "rule", "color": "#333333", "strokeDash": [5, 3], "strokeWidth": 1.2}, "encoding": {"x": {"datum": 0}, "y": {"datum": 0}, "y2": {"datum": 600}}},
  {"data": {"values": [{}]}, "mark": {"type": "rule", "color": "#d04a5a", "strokeDash": [5, 3], "strokeWidth": 1.2}, "encoding": {"x": {"datum": 3}, "y": {"datum": 0}, "y2": {"datum": 600}}},
  {"data": {"name": "pts"}, "transform": [{"filter": "datum.p == 'C'"}], "mark": {"type": "point", "filled": false, "size": 100, "strokeWidth": 2},
   "encoding": {
    "x": {"field": "x", "type": "quantitative", "scale": {"domain": [-2.222, 8.183], "range": [-6, 392], "nice": false, "zero": false}, "axis": {"values": [-2,0,2,4,6,8], "tickCount": 30, "labelExpr": "'' + datum.value", "labelOverlap": false, "title": "Years from virologic suppression", "zindex": 1}},
    "y": {"field": "y", "type": "quantitative", "scale": {"domain": [-22.95, 609.8], "nice": false, "zero": false}, "axis": {"values": [0,200,400,600], "tickCount": 30, "labelExpr": "'' + datum.value", "labelOverlap": false, "offset": 6, "titlePadding": 18, "title": "D-dimer (ng/mL)", "zindex": 1}},
    "color": {"field": "g", "type": "nominal", "scale": {"domain": ["B3","L3","B2","L2"], "range": ["#1b2452","#4a5482","#f0a33c","#f6a945"]}, "legend": {"title": null, "orient": "none", "legendX": 70, "legendY": 227, "zindex": 1, "labelExpr": "{'B3':'Baseline 3DR','B2':'Baseline 2DR','L3':'3DR','L2':'2DR'}[datum.label]"}},
    "shape": {"field": "g", "type": "nominal", "scale": {"domain": ["B3","L3","B2","L2"], "range": ["M-0.21,0A0.21,0.21,0,1,0,0.21,0A0.21,0.21,0,1,0,-0.21,0Z","M-4.2,0L4.2,0","M-0.21,0A0.21,0.21,0,1,0,0.21,0A0.21,0.21,0,1,0,-0.21,0Z","M-4.2,0L4.2,0"]}, "legend": {"title": null, "orient": "none", "legendX": 70, "legendY": 227, "zindex": 1, "labelExpr": "{'B3':'Baseline 3DR','B2':'Baseline 2DR','L3':'3DR','L2':'2DR'}[datum.label]"}},
    "opacity": {"field": "f", "type": "nominal", "scale": {"domain": [1, 0], "range": [1, 0.3]}, "legend": null}
   }},
  {"data": {"name": "lns"}, "transform": [{"filter": "datum.p == 'C'"}], "mark": {"type": "line", "strokeWidth": 2}, "encoding": {"x": {"field": "x", "type": "quantitative"}, "y": {"field": "y", "type": "quantitative"}, "color": {"field": "g", "type": "nominal"}}},
  {"data": {"values": [{}]}, "mark": {"type": "text", "text": "Trajectories after year 3", "align": "left", "baseline": "middle", "fontSize": 18, "fontWeight": "bold", "color": "#111111"}, "encoding": {"x": {"datum": 1.386}, "y": {"datum": 528}}},
  {"data": {"values": [{}]}, "mark": {"type": "text", "text": "TT vs 2DC, ", "align": "left", "baseline": "middle", "fontSize": 18, "color": "#c42a3a"}, "encoding": {"x": {"datum": 1.386}, "y": {"datum": 462}}},
  {"data": {"values": [{}]}, "mark": {"type": "text", "text": "p", "dx": 96, "align": "left", "baseline": "middle", "fontSize": 18, "fontStyle": "italic", "color": "#c42a3a"}, "encoding": {"x": {"datum": 1.386}, "y": {"datum": 462}}},
  {"data": {"values": [{}]}, "mark": {"type": "text", "text": "=0.001", "dx": 106, "align": "left", "baseline": "middle", "fontSize": 18, "color": "#c42a3a"}, "encoding": {"x": {"datum": 1.386}, "y": {"datum": 462}}}
 ]
},
{
 "title": {"text": "Adjusted IFABP concentrations", "offset": -28, "dx": 15, "zindex": 1},
 "width": 386, "height": 195,
 "layer": [
  {"data": {"values": [{}]}, "mark": {"type": "rect", "color": "#ffffff"}, "encoding": {"x": {"datum": -3.872}, "x2": {"datum": 8.454}, "y": {"datum": 36343}, "y2": {"datum": -17143}}},
  {"data": {"values": [{}]}, "mark": {"type": "rule", "color": "#333333", "strokeDash": [5, 3], "strokeWidth": 1.2}, "encoding": {"x": {"datum": 0}, "y": {"datum": 0}, "y2": {"datum": 30000}}},
  {"data": {"values": [{}]}, "mark": {"type": "rule", "color": "#d04a5a", "strokeDash": [5, 3], "strokeWidth": 1.2}, "encoding": {"x": {"datum": 3}, "y": {"datum": 0}, "y2": {"datum": 23500}}},
  {"data": {"name": "pts"}, "transform": [{"filter": "datum.p == 'D'"}], "mark": {"type": "point", "filled": false, "size": 100, "strokeWidth": 2},
   "encoding": {
    "x": {"field": "x", "type": "quantitative", "scale": {"domain": [-2.107, 8.214], "range": [17, 403], "nice": false, "zero": false}, "axis": {"values": [-2,0,2,4,6,8], "tickCount": 30, "labelExpr": "'' + datum.value", "labelOverlap": false, "title": "Years from virologic suppression", "titleX": 210, "zindex": 1}},
    "y": {"field": "y", "type": "quantitative", "scale": {"domain": [-2229, 31200], "nice": false, "zero": false}, "axis": {"values": [0,5000,10000,15000,20000,25000,30000], "tickCount": 30, "labelExpr": "'' + datum.value", "labelOverlap": false, "grid": false, "offset": -17, "titlePadding": 14, "title": "IFABP (ng/mL)", "zindex": 1}},
    "color": {"field": "g", "type": "nominal", "scale": {"domain": ["B3","L3","B2","L2"], "range": ["#1b2452","#4a5482","#f0a33c","#f6a945"]}, "legend": {"title": null, "orient": "none", "legendX": 84, "legendY": 230, "zindex": 1, "labelExpr": "{'B3':'Baseline 3DR','B2':'Baseline 2DR','L3':'3DR','L2':'2DR'}[datum.label]"}},
    "shape": {"field": "g", "type": "nominal", "scale": {"domain": ["B3","L3","B2","L2"], "range": ["M-0.21,0A0.21,0.21,0,1,0,0.21,0A0.21,0.21,0,1,0,-0.21,0Z","M-4.2,0L4.2,0","M-0.21,0A0.21,0.21,0,1,0,0.21,0A0.21,0.21,0,1,0,-0.21,0Z","M-4.2,0L4.2,0"]}, "legend": {"title": null, "orient": "none", "legendX": 84, "legendY": 230, "zindex": 1, "labelExpr": "{'B3':'Baseline 3DR','B2':'Baseline 2DR','L3':'3DR','L2':'2DR'}[datum.label]"}},
    "opacity": {"field": "f", "type": "nominal", "scale": {"domain": [1, 0], "range": [1, 0.3]}, "legend": null}
   }},
  {"data": {"name": "lns"}, "transform": [{"filter": "datum.p == 'D'"}], "mark": {"type": "line", "strokeWidth": 2}, "encoding": {"x": {"field": "x", "type": "quantitative"}, "y": {"field": "y", "type": "quantitative"}, "color": {"field": "g", "type": "nominal"}}},
  {"data": {"values": [{}]}, "mark": {"type": "text", "text": "Trajectories after year 3", "align": "left", "baseline": "middle", "fontSize": 18, "fontWeight": "bold", "color": "#111111"}, "encoding": {"x": {"datum": 1.316}, "y": {"datum": 28287}}},
  {"data": {"values": [{}]}, "mark": {"type": "text", "text": "TT vs 2DC, ", "align": "left", "baseline": "middle", "fontSize": 18, "color": "#111111"}, "encoding": {"x": {"datum": 1.316}, "y": {"datum": 24858}}},
  {"data": {"values": [{}]}, "mark": {"type": "text", "text": "p", "dx": 96, "align": "left", "baseline": "middle", "fontSize": 18, "fontStyle": "italic", "color": "#111111"}, "encoding": {"x": {"datum": 1.316}, "y": {"datum": 24858}}},
  {"data": {"values": [{}]}, "mark": {"type": "text", "text": "=0.587", "dx": 106, "align": "left", "baseline": "middle", "fontSize": 18, "color": "#111111"}, "encoding": {"x": {"datum": 1.316}, "y": {"datum": 24858}}}
 ]
},
{
 "title": {"text": "Adjusted sCD14 concentrations", "offset": -28, "zindex": 1},
 "width": 405, "height": 191,
 "layer": [
  {"data": {"values": [{}]}, "mark": {"type": "rect", "color": "#ffffff"}, "encoding": {"x": {"datum": -3.266}, "x2": {"datum": 8.557}, "y": {"datum": 7.22}, "y2": {"datum": -3.066}}},
  {"data": {"values": [{}]}, "mark": {"type": "rule", "color": "#333333", "strokeDash": [5, 3], "strokeWidth": 1.2}, "encoding": {"x": {"datum": 0}, "y": {"datum": 0}, "y2": {"datum": 6}}},
  {"data": {"values": [{}]}, "mark": {"type": "rule", "color": "#d04a5a", "strokeDash": [5, 3], "strokeWidth": 1.2}, "encoding": {"x": {"datum": 3}, "y": {"datum": 0}, "y2": {"datum": 6}}},
  {"data": {"name": "pts"}, "transform": [{"filter": "datum.p == 'E'"}], "mark": {"type": "point", "filled": false, "size": 100, "strokeWidth": 2},
   "encoding": {
    "x": {"field": "x", "type": "quantitative", "scale": {"domain": [-2.101, 8.152], "range": [-4, 401], "nice": false, "zero": false}, "axis": {"values": [-2,-1,0,1,2,3,4,5,6,7,8], "tickCount": 30, "labelExpr": "'' + datum.value", "labelOverlap": false, "offset": 4, "title": "Years from virologic suppression", "zindex": 1}},
    "y": {"field": "y", "type": "quantitative", "scale": {"domain": [-0.198, 6.099], "range": [195, 4], "nice": false, "zero": false}, "axis": {"values": [0,1,2,3,4,5,6], "tickCount": 30, "labelExpr": "'' + datum.value", "labelOverlap": false, "offset": 4, "titlePadding": 4, "title": "sCD14 (ug/mL)", "zindex": 1}},
    "color": {"field": "g", "type": "nominal", "scale": {"domain": ["B3","L3","B2","L2"], "range": ["#1b2452","#4a5482","#f0a33c","#f6a945"]}, "legend": {"title": null, "orient": "none", "legendX": 75, "legendY": 229, "zindex": 1, "labelExpr": "{'B3':'Baseline 3DR','B2':'Baseline 2DR','L3':'3DR','L2':'2DR'}[datum.label]"}},
    "shape": {"field": "g", "type": "nominal", "scale": {"domain": ["B3","L3","B2","L2"], "range": ["M-0.21,0A0.21,0.21,0,1,0,0.21,0A0.21,0.21,0,1,0,-0.21,0Z","M-4.2,0L4.2,0","M-0.21,0A0.21,0.21,0,1,0,0.21,0A0.21,0.21,0,1,0,-0.21,0Z","M-4.2,0L4.2,0"]}, "legend": {"title": null, "orient": "none", "legendX": 75, "legendY": 229, "zindex": 1, "labelExpr": "{'B3':'Baseline 3DR','B2':'Baseline 2DR','L3':'3DR','L2':'2DR'}[datum.label]"}},
    "opacity": {"field": "f", "type": "nominal", "scale": {"domain": [1, 0], "range": [1, 0.3]}, "legend": null}
   }},
  {"data": {"name": "lns"}, "transform": [{"filter": "datum.p == 'E'"}], "mark": {"type": "line", "strokeWidth": 2}, "encoding": {"x": {"field": "x", "type": "quantitative"}, "y": {"field": "y", "type": "quantitative"}, "color": {"field": "g", "type": "nominal"}}},
  {"data": {"values": [{}]}, "mark": {"type": "text", "text": "Trajectories after year 3", "align": "left", "baseline": "middle", "fontSize": 18, "fontWeight": "bold", "color": "#111111"}, "encoding": {"x": {"datum": 1.797}, "y": {"datum": 5.275}}},
  {"data": {"values": [{}]}, "mark": {"type": "text", "text": "TT vs 2DC, ", "align": "left", "baseline": "middle", "fontSize": 18, "color": "#111111"}, "encoding": {"x": {"datum": 1.797}, "y": {"datum": 4.616}}},
  {"data": {"values": [{}]}, "mark": {"type": "text", "text": "p", "dx": 96, "align": "left", "baseline": "middle", "fontSize": 18, "fontStyle": "italic", "color": "#111111"}, "encoding": {"x": {"datum": 1.797}, "y": {"datum": 4.616}}},
  {"data": {"values": [{}]}, "mark": {"type": "text", "text": "=0.879", "dx": 106, "align": "left", "baseline": "middle", "fontSize": 18, "color": "#111111"}, "encoding": {"x": {"datum": 1.797}, "y": {"datum": 4.616}}}
 ]
},
{
 "title": {"text": "Adjusted sCD163 concentrations", "offset": -28, "zindex": 1},
 "width": 390, "height": 194,
 "layer": [
  {"data": {"values": [{}]}, "mark": {"type": "rect", "color": "#ffffff"}, "encoding": {"x": {"datum": -3.909}, "x2": {"datum": 8.544}, "y": {"datum": 3893}, "y2": {"datum": -1678}}},
  {"data": {"values": [{}]}, "mark": {"type": "rule", "color": "#333333", "strokeDash": [5, 3], "strokeWidth": 1.2}, "encoding": {"x": {"datum": 0}, "y": {"datum": 0}, "y2": {"datum": 3000}}},
  {"data": {"values": [{}]}, "mark": {"type": "rule", "color": "#d04a5a", "strokeDash": [5, 3], "strokeWidth": 1.2}, "encoding": {"x": {"datum": 3}, "y": {"datum": 0}, "y2": {"datum": 2400}}},
  {"data": {"name": "pts"}, "transform": [{"filter": "datum.p == 'F'"}], "mark": {"type": "point", "filled": false, "size": 100, "strokeWidth": 2},
   "encoding": {
    "x": {"field": "x", "type": "quantitative", "scale": {"domain": [-2.222, 8.222], "nice": false, "zero": false}, "axis": {"values": [-2,-1,0,1,2,3,4,5,6,7,8], "tickCount": 30, "labelExpr": "'' + datum.value", "labelOverlap": false, "title": "Years from virologic suppression", "zindex": 1}},
    "y": {"field": "y", "type": "quantitative", "scale": {"domain": [-107, 3357], "nice": false, "zero": false}, "axis": {"values": [0,500,1000,1500,2000,2500,3000], "tickCount": 30, "labelExpr": "'' + datum.value", "labelOverlap": false, "titlePadding": 14, "title": "sCD163 (ng/mL)", "zindex": 1}},
    "color": {"field": "g", "type": "nominal", "scale": {"domain": ["B3","L3","B2","L2"], "range": ["#1b2452","#4a5482","#f0a33c","#f6a945"]}, "legend": {"title": null, "orient": "none", "legendX": 70, "legendY": 230, "zindex": 1, "labelExpr": "{'B3':'Baseline 3DR','B2':'Baseline 2DR','L3':'3DR','L2':'2DR'}[datum.label]"}},
    "shape": {"field": "g", "type": "nominal", "scale": {"domain": ["B3","L3","B2","L2"], "range": ["M-0.21,0A0.21,0.21,0,1,0,0.21,0A0.21,0.21,0,1,0,-0.21,0Z","M-4.2,0L4.2,0","M-0.21,0A0.21,0.21,0,1,0,0.21,0A0.21,0.21,0,1,0,-0.21,0Z","M-4.2,0L4.2,0"]}, "legend": {"title": null, "orient": "none", "legendX": 70, "legendY": 230, "zindex": 1, "labelExpr": "{'B3':'Baseline 3DR','B2':'Baseline 2DR','L3':'3DR','L2':'2DR'}[datum.label]"}},
    "opacity": {"field": "f", "type": "nominal", "scale": {"domain": [1, 0], "range": [1, 0.3]}, "legend": null}
   }},
  {"data": {"name": "lns"}, "transform": [{"filter": "datum.p == 'F'"}], "mark": {"type": "line", "strokeWidth": 2}, "encoding": {"x": {"field": "x", "type": "quantitative"}, "y": {"field": "y", "type": "quantitative"}, "color": {"field": "g", "type": "nominal"}}},
  {"data": {"values": [{}]}, "mark": {"type": "text", "text": "Trajectories after year 3", "align": "left", "baseline": "middle", "fontSize": 18, "fontWeight": "bold", "color": "#111111"}, "encoding": {"x": {"datum": 1.34}, "y": {"datum": 2929}}},
  {"data": {"values": [{}]}, "mark": {"type": "text", "text": "TT vs 2DC, ", "align": "left", "baseline": "middle", "fontSize": 18, "color": "#111111"}, "encoding": {"x": {"datum": 1.34}, "y": {"datum": 2571}}},
  {"data": {"values": [{}]}, "mark": {"type": "text", "text": "p", "dx": 96, "align": "left", "baseline": "middle", "fontSize": 18, "fontStyle": "italic", "color": "#111111"}, "encoding": {"x": {"datum": 1.34}, "y": {"datum": 2571}}},
  {"data": {"values": [{}]}, "mark": {"type": "text", "text": "=0.090", "dx": 106, "align": "left", "baseline": "middle", "fontSize": 18, "color": "#111111"}, "encoding": {"x": {"datum": 1.34}, "y": {"datum": 2571}}}
 ]
}
]
}
